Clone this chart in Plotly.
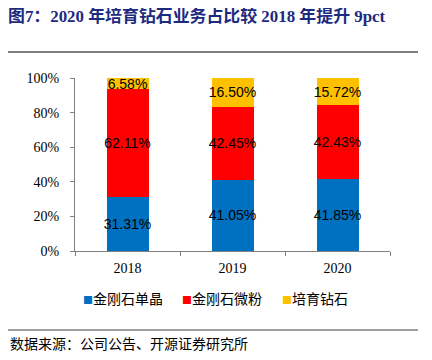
import plotly.graph_objects as go

years = ["2018", "2019", "2020"]
single_crystal = [31.31, 41.05, 41.85]
micro_powder = [62.11, 42.45, 42.43]
lab_diamond = [6.58, 16.50, 15.72]
series_names = ["金刚石单晶", "金刚石微粉", "培育钻石"]
colors = ["#0070C0", "#FF0000", "#FFC000"]
y_ticks = [0, 0.2, 0.4, 0.6, 0.8, 1.0]

title_text = "图7：2020 年培育钻石业务占比较 2018 年提升 9pct"
source_text = "数据来源：公司公告、开源证券研究所"

# page offset of the plotly div (browser body margin)
OX, OY = 8, 8
W, H = 416, 344
# plot area in page pixels: x 75..390, y 78..251
L, R, T, B = 75 - OX, W - (390 - OX), 78 - OY, H - (251 - OY)
pw, ph = W - L - R, H - T - B

def px_x(x):
    return (x - OX - L) / pw

def px_y(y):
    return (H - B - (y - OY)) / ph

fig = go.Figure()
for name, vals, col in zip(series_names, [single_crystal, micro_powder, lab_diamond], colors):
    fig.add_trace(go.Bar(
        x=years, y=[v / 100 for v in vals], name=name,
        marker=dict(color=col, line=dict(width=0)),
        text=[f"{v:.2f}%" for v in vals],
        textposition="inside", insidetextanchor="middle", textangle=0,
        constraintext="none", showlegend=False,
        textfont=dict(family="Liberation Sans", size=14, color="#000000"),
    ))

legend_x = [82, 181, 281]
annotations = [
    dict(text=source_text, xref="paper", yref="paper", x=px_x(8), y=px_y(343),
         xanchor="left", yanchor="middle", showarrow=False,
         font=dict(family="Noto Sans CJK SC", size=14, color="#000000")),
]
for name, col, lx in zip(series_names, colors, legend_x):
    annotations.append(dict(
        text=f"<span style='color:{col};font-size:10px'>■</span>{name}",
        xref="paper", yref="paper", x=px_x(lx - 1), y=px_y(298),
        xanchor="left", yanchor="middle", showarrow=False,
        font=dict(family="Noto Sans CJK SC", size=14, color="#000000")))

fig.update_layout(
    width=W, height=H,
    margin=dict(l=L, r=R, t=T, b=B, pad=0, autoexpand=False),
    barmode="stack", bargap=0.6,
    plot_bgcolor="white", paper_bgcolor="white",
    showlegend=False,
    title=dict(text=title_text, xref="container", x=0, xanchor="left",
               yref="container", y=1 - (16 - OY) / H, yanchor="middle",
               font=dict(family="Liberation Serif, Noto Sans CJK SC", size=16.9,
                         color="#1C2A80", weight="bold")),
    xaxis=dict(type="category", range=[-0.5, 2.5], showline=True, linecolor="#808080",
               linewidth=1, ticks="outside", tickson="boundaries", ticklen=4,
               tickcolor="#808080", showgrid=False, ticklabelstandoff=4,
               tickfont=dict(family="Liberation Serif", size=14, color="#000000")),
    yaxis=dict(range=[0, 1], tickvals=y_ticks, tickformat=".0%",
               showline=True, linecolor="#808080", linewidth=1, ticks="outside",
               ticklen=4, tickcolor="#808080", showgrid=False, zeroline=False,
               ticklabelstandoff=8,
               tickfont=dict(family="Liberation Serif", size=14, color="#000000")),
    shapes=[
        dict(type="line", xref="paper", yref="paper", x0=px_x(8), x1=px_x(418),
             y0=px_y(52), y1=px_y(52), line=dict(color="#000000", width=1)),
        dict(type="line", xref="paper", yref="paper", x0=px_x(8), x1=px_x(418),
             y0=px_y(330), y1=px_y(330), line=dict(color="#808080", width=1.5)),
    ],
    annotations=annotations,
)

fig.write_html("out.html")
